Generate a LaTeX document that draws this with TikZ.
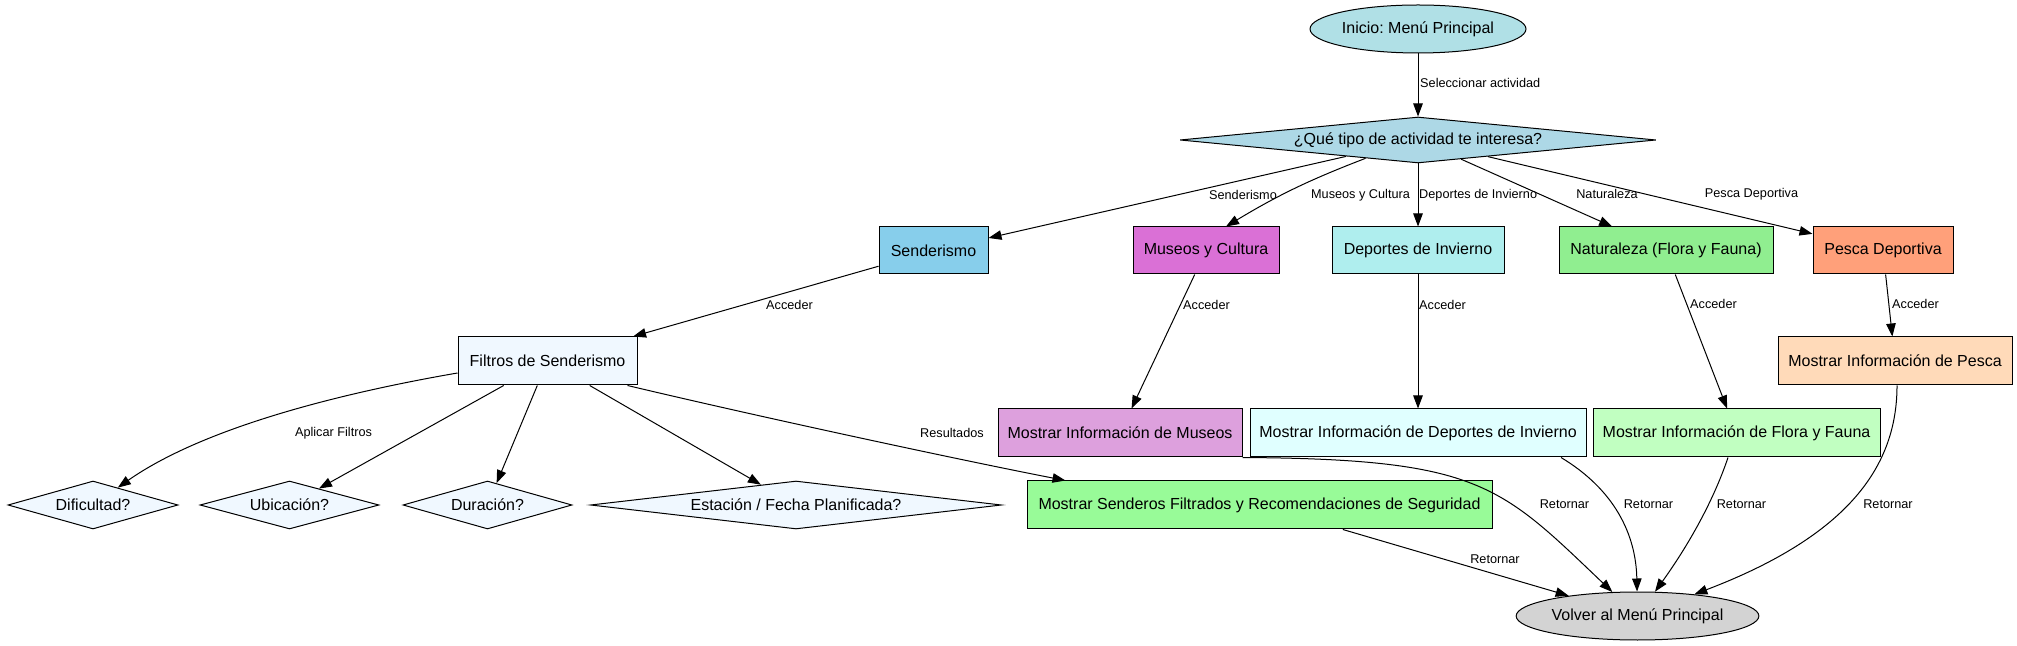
\documentclass[tikz,border=0pt]{standalone}
\usepackage{fontspec}
\setmainfont{Liberation Sans}
\frenchspacing
\usetikzlibrary{shapes.geometric,arrows.meta,positioning}
\definecolor{powder}{RGB}{176,224,230}
\definecolor{lblue}{RGB}{173,216,230}
\definecolor{sky}{RGB}{135,206,235}
\definecolor{orchid}{RGB}{218,112,214}
\definecolor{pturq}{RGB}{175,238,238}
\definecolor{lgreen}{RGB}{144,238,144}
\definecolor{lsalmon}{RGB}{255,160,122}
\definecolor{alice}{RGB}{240,248,255}
\definecolor{plum}{RGB}{221,160,221}
\definecolor{lcyan}{RGB}{224,255,255}
\definecolor{sgreen}{RGB}{193,255,193}
\definecolor{peach}{RGB}{255,218,185}
\definecolor{pgreen}{RGB}{152,251,152}
\definecolor{lgray}{RGB}{211,211,211}

\begin{document}
\begin{tikzpicture}[x=1pt,y=1pt,
  box/.style={draw,rectangle,inner sep=0pt,minimum height=47,line width=1pt,font=\fontsize{16}{19}\selectfont},
  dec/.style={draw,diamond,inner sep=0pt,minimum height=48,line width=1pt,fill=alice},
  oval/.style={draw,ellipse,inner sep=0pt,minimum height=48,line width=1pt,font=\fontsize{16}{19}\selectfont},
  lbl/.style={inner sep=0pt,font=\fontsize{12.7}{15}\selectfont},
  arr/.style={-{Triangle[length=13pt,width=9.5pt]},line width=1pt},
  every label/.style={font=\fontsize{16}{19}\selectfont}]
  \useasboundingbox (0,0) rectangle (2017,645);

  \node[oval,fill=powder,minimum width=216] (ini) at (1418,616) {Inicio: Menú Principal};
  \node[dec,fill=lblue,minimum width=476,minimum height=46,label=center:{¿Qué tipo de actividad te interesa?}] (qtipo) at (1418,505) {};

  \node[box,fill=sky,minimum width=109] (sen) at (933.5,394.5) {Senderismo};
  \node[box,fill=orchid,minimum width=146] (mus) at (1206,394.5) {Museos y Cultura};
  \node[box,fill=pturq,minimum width=172] (dep) at (1418,394.5) {Deportes de Invierno};
  \node[box,fill=lgreen,minimum width=214] (nat) at (1666,394.5) {Naturaleza (Flora y Fauna)};
  \node[box,fill=lsalmon,minimum width=140] (pes) at (1883,394.5) {Pesca Deportiva};

  \node[box,fill=alice,minimum width=179,minimum height=48] (fil) at (547.5,284) {Filtros de Senderismo};
  \node[box,fill=peach,minimum width=234,minimum height=48] (mpes) at (1895,284) {Mostrar Información de Pesca};
  \node[box,fill=plum,minimum width=244,minimum height=48] (mmus) at (1120,212) {Mostrar Información de Museos};
  \node[box,fill=lcyan,minimum width=336,minimum height=48] (mdep) at (1418,212) {Mostrar Información de Deportes de Invierno};
  \node[box,fill=sgreen,minimum width=287,minimum height=48] (mflo) at (1736.5,212) {Mostrar Información de Flora y Fauna};

  \node[dec,minimum width=170,label=center:Dificultad?] (dif) at (93,140) {};
  \node[dec,minimum width=179,label=center:Ubicación?] (ubi) at (289.5,140) {};
  \node[dec,minimum width=169,label=center:Duración?] (dur) at (487.5,140) {};
  \node[dec,minimum width=411,label=center:{Estación / Fecha Planificada?}] (est) at (796,140) {};
  \node[box,fill=pgreen,minimum width=465,minimum height=48] (msen) at (1259.5,140) {Mostrar Senderos Filtrados y Recomendaciones de Seguridad};
  \node[oval,fill=lgray,minimum width=241] (vol) at (1637.5,29) {Volver al Menú Principal};

  \draw[arr] (ini) -- (qtipo);
  \draw[arr] (qtipo) -- (sen);
  \draw[arr] (qtipo) to[bend right=5] ([xshift=20pt]mus.north);
  \draw[arr] (qtipo) -- (dep);
  \draw[arr] (qtipo) -- (nat);
  \draw[arr] (qtipo) -- (pes);
  \draw[arr] (sen) -- (fil);
  \draw[arr] (mus) -- (mmus);
  \draw[arr] (dep) -- (mdep);
  \draw[arr] (nat) -- (mflo);
  \draw[arr] (pes) -- (mpes);
  \draw[arr] ([yshift=-12pt]fil.west) .. controls (330,250) and (200,215) .. (dif);
  \draw[arr] (fil) -- (ubi);
  \draw[arr] (fil) -- (dur);
  \draw[arr] (fil) -- (est);
  \draw[arr] ([xshift=-10pt]fil.south east) .. controls (760,228) and (960,185) .. ([xshift=-194pt]msen.north);
  \draw[arr] (mmus.south east) .. controls (1480,186) and (1500,160) .. (vol);
  \draw[arr] ([xshift=143pt]mdep.south) .. controls (1615,155) and (1636,110) .. (vol);
  \draw[arr] ([xshift=-8.5pt]mflo.south) .. controls (1712,140) and (1685,95) .. (vol);
  \draw[arr] ([xshift=2pt]mpes.south) .. controls (1897,180) and (1850,110) .. (vol);
  \draw[arr] (msen) -- (vol);

  \node[lbl,anchor=west] (lsel) at (1420,562) {Seleccionar actividad};
  \node[lbl] (lsen) at (1243,450) {Senderismo};
  \node[lbl] (lmus) at (1360.5,450) {Museos y Cultura};
  \node[lbl,anchor=west] (ldep) at (1419,450) {Deportes de Invierno};
  \node[lbl] (lnat) at (1607,451) {Naturaleza};
  \node[lbl] (lpes) at (1751.5,451) {Pesca Deportiva};
  \node[lbl] (lacc1) at (789.5,340) {Acceder};
  \node[lbl,anchor=west] (lacc2) at (1183,340) {Acceder};
  \node[lbl,anchor=west] (lacc3) at (1419,340) {Acceder};
  \node[lbl,anchor=west] (lacc4) at (1690,341) {Acceder};
  \node[lbl,anchor=west] (lacc5) at (1892,341) {Acceder};
  \node[lbl] (lapl) at (333.5,212) {Aplicar Filtros};
  \node[lbl] (lres) at (952,212) {Resultados};
  \node[lbl] (lret1) at (1564.5,141) {Retornar};
  \node[lbl] (lret2) at (1648.5,141) {Retornar};
  \node[lbl] (lret3) at (1741.5,141) {Retornar};
  \node[lbl] (lret4) at (1888,141) {Retornar};
  \node[lbl] (lret5) at (1495,86) {Retornar};
\end{tikzpicture}
\end{document}
